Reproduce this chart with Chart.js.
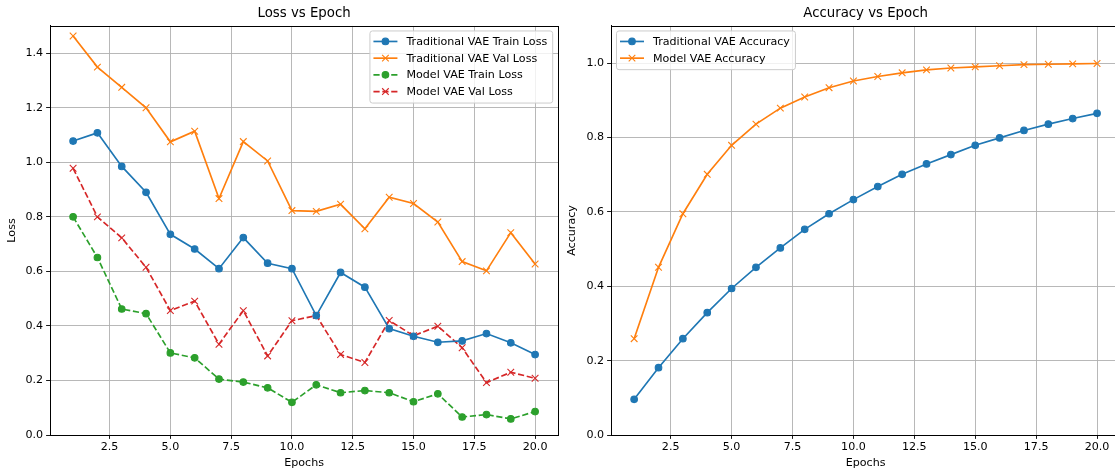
<!DOCTYPE html>
<html>
<head>
<meta charset="utf-8">
<script src="https://cdn.jsdelivr.net/npm/chart.js@4.4.1/dist/chart.umd.min.js"></script>
<style>
  body { margin: 0; background: #fff; }
  #wrap { position: relative; width: 1115px; height: 471px; overflow: hidden; }
  #lossChart { position: absolute; left: 0; top: 0; }
  #accChart { position: absolute; left: 560px; top: 0; }
</style>
</head>
<body>
<div id="wrap">
  <canvas id="lossChart" width="564" height="471"></canvas>
  <canvas id="accChart" width="566" height="471"></canvas>
</div>
<script>
// === DATA ===
const epochs = [1, 2, 3, 4, 5, 6, 7, 8, 9, 10, 11, 12, 13, 14, 15, 16, 17, 18, 19, 20];
const tradTrainLoss = [1.078, 1.108, 0.985, 0.890, 0.736, 0.682, 0.610, 0.724, 0.630, 0.610, 0.438, 0.596, 0.542, 0.390, 0.362, 0.340, 0.345, 0.372, 0.338, 0.295];
const tradValLoss = [1.463, 1.349, 1.275, 1.200, 1.075, 1.114, 0.867, 1.076, 1.005, 0.823, 0.820, 0.846, 0.756, 0.872, 0.849, 0.781, 0.636, 0.602, 0.742, 0.627];
const modelTrainLoss = [0.800, 0.651, 0.462, 0.445, 0.301, 0.283, 0.205, 0.194, 0.173, 0.120, 0.184, 0.155, 0.163, 0.155, 0.122, 0.151, 0.066, 0.075, 0.059, 0.086];
const modelValLoss = [0.978, 0.800, 0.723, 0.615, 0.456, 0.491, 0.333, 0.456, 0.290, 0.419, 0.438, 0.295, 0.266, 0.420, 0.364, 0.399, 0.320, 0.192, 0.230, 0.208];
const tradAcc = [0.096, 0.181, 0.259, 0.329, 0.394, 0.451, 0.503, 0.553, 0.595, 0.633, 0.668, 0.701, 0.729, 0.754, 0.779, 0.799, 0.819, 0.836, 0.851, 0.865];
const modelAcc = [0.259, 0.451, 0.595, 0.701, 0.779, 0.836, 0.879, 0.909, 0.934, 0.952, 0.964, 0.974, 0.982, 0.987, 0.990, 0.993, 0.996, 0.997, 0.998, 0.999];

const xTicks = [2.5, 5.0, 7.5, 10.0, 12.5, 15.0, 17.5, 20.0];
const lossTicks = [0.0, 0.2, 0.4, 0.6, 0.8, 1.0, 1.2, 1.4];
const accTicks = [0.0, 0.2, 0.4, 0.6, 0.8, 1.0];

const FONT = "'DejaVu Sans', sans-serif";
const BLUE = "#1f77b4", ORANGE = "#ff7f0e", GREEN = "#2ca02c", RED = "#d62728";
const DASH = [6.2, 2.7];
const FS = 11.1;

function pts(arr) {
  return epochs.map((e, i) => ({ x: e, y: arr[i] }));
}

function series(label, arr, color, marker, dashed) {
  const isX = marker === "x";
  return {
    label: label,
    data: pts(arr),
    borderColor: color,
    backgroundColor: color,
    borderWidth: 1.67,
    borderDash: dashed ? DASH : [],
    pointStyle: isX ? "crossRot" : "circle",
    pointRadius: isX ? 4.7 : 3.3,
    pointBorderWidth: 1.1,
    pointBackgroundColor: color,
    pointBorderColor: color,
    tension: 0,
  };
}

// === frame + legend inside plot ===
const framePlugin = {
  id: "frameLegend",
  afterDraw(chart) {
    const ctx = chart.ctx;
    const a = chart.chartArea;
    ctx.save();
    ctx.strokeStyle = "#000";
    ctx.lineWidth = 1;
    ctx.strokeRect(Math.round(a.left) + 0.5, Math.round(a.top) + 0.5, Math.round(a.right - a.left), Math.round(a.bottom - a.top));

    const cfg = chart.options.plugins.innerLegend;
    ctx.font = FS + "px " + FONT;
    const sets = chart.data.datasets;
    let textW = 0;
    sets.forEach((d) => { textW = Math.max(textW, ctx.measureText(d.label).width); });
    const boxW = 4 + 24 + 9 + textW + 5;
    const rowH = 16.7;
    const boxH = 11 + (sets.length - 1) * rowH + 11;
    const left = cfg.side === "right" ? a.right - 6 - boxW : a.left + 5;
    const top = a.top + 4.5;

    ctx.beginPath();
    ctx.roundRect(left + 0.5, top + 0.5, boxW, boxH, 2.5);
    ctx.fillStyle = "rgba(255,255,255,0.8)";
    ctx.fill();
    ctx.strokeStyle = "#cccccc";
    ctx.stroke();

    sets.forEach((d, i) => {
      const y = top + 11 + i * rowH;
      const x0 = left + 4, x1 = left + 28;
      const cx = (x0 + x1) / 2;
      ctx.strokeStyle = d.borderColor;
      ctx.lineWidth = d.borderWidth;
      ctx.setLineDash(d.borderDash || []);
      ctx.beginPath();
      ctx.moveTo(x0, y);
      ctx.lineTo(x1, y);
      ctx.stroke();
      ctx.setLineDash([]);
      ctx.fillStyle = d.borderColor;
      ctx.lineWidth = d.pointBorderWidth;
      if (d.pointStyle === "circle") {
        ctx.beginPath();
        ctx.arc(cx, y, d.pointRadius, 0, Math.PI * 2);
        ctx.fill();
        ctx.stroke();
      } else {
        const r = 3.3;
        ctx.beginPath();
        ctx.moveTo(cx - r, y - r); ctx.lineTo(cx + r, y + r);
        ctx.moveTo(cx - r, y + r); ctx.lineTo(cx + r, y - r);
        ctx.stroke();
      }
      ctx.fillStyle = "#000";
      ctx.textBaseline = "middle";
      ctx.textAlign = "left";
      ctx.fillText(d.label, x1 + 9, y + 0.5);
    });
    ctx.restore();
  },
};

function makeOptions(title, yTitle, yMax, yTicks, legendSide, yWidth) {
  return {
    responsive: false,
    animation: false,
    layout: { padding: 0 },
    plugins: {
      legend: { display: false },
      tooltip: { enabled: false },
      title: {
        display: true,
        fullSize: false,
        text: title,
        color: "#000",
        font: { family: FONT, size: 13.3, weight: "normal" },
        padding: { top: 5.5, bottom: 4.5 },
      },
      innerLegend: { side: legendSide },
    },
    scales: {
      x: {
        type: "linear",
        min: 0.05,
        max: 20.95,
        afterBuildTicks: (s) => { s.ticks = xTicks.map((v) => ({ value: v })); },
        afterFit: (s) => { s.height = 36; },
        ticks: {
          color: "#000",
          font: { family: FONT, size: FS },
          padding: 2,
          maxRotation: 0,
          callback: (v) => Number(v).toFixed(1),
        },
        grid: { color: "#b0b0b0", lineWidth: 0.9, tickColor: "#000", tickLength: 3.9, tickWidth: 0.9 },
        border: { color: "#000", width: 1 },
        title: {
          display: true,
          text: "Epochs",
          color: "#000",
          font: { family: FONT, size: FS },
          padding: { top: 0, bottom: 1 },
        },
      },
      y: {
        type: "linear",
        min: 0,
        max: yMax,
        afterBuildTicks: (s) => { s.ticks = yTicks.map((v) => ({ value: v })); },
        afterFit: (s) => { s.width = yWidth; },
        ticks: {
          color: "#000",
          font: { family: FONT, size: FS },
          padding: 3,
          callback: (v) => Number(v).toFixed(1),
        },
        grid: { color: "#b0b0b0", lineWidth: 0.9, tickColor: "#000", tickLength: 3.9, tickWidth: 0.9 },
        border: { color: "#000", width: 1 },
        title: {
          display: true,
          text: yTitle,
          color: "#000",
          font: { family: FONT, size: FS },
          padding: { top: 5, bottom: 0 },
        },
      },
    },
  };
}

new Chart(document.getElementById("lossChart"), {
  type: "line",
  data: {
    datasets: [
      series("Traditional VAE Train Loss", tradTrainLoss, BLUE, "o", false),
      series("Traditional VAE Val Loss", tradValLoss, ORANGE, "x", false),
      series("Model VAE Train Loss", modelTrainLoss, GREEN, "o", true),
      series("Model VAE Val Loss", modelValLoss, RED, "x", true),
    ],
  },
  options: makeOptions("Loss vs Epoch", "Loss", 1.5, lossTicks, "right", 50),
  plugins: [framePlugin],
});

new Chart(document.getElementById("accChart"), {
  type: "line",
  data: {
    datasets: [
      series("Traditional VAE Accuracy", tradAcc, BLUE, "o", false),
      series("Model VAE Accuracy", modelAcc, ORANGE, "x", false),
    ],
  },
  options: makeOptions("Accuracy vs Epoch", "Accuracy", 1.1, accTicks, "left", 51),
  plugins: [framePlugin],
});
</script>
</body>
</html>
